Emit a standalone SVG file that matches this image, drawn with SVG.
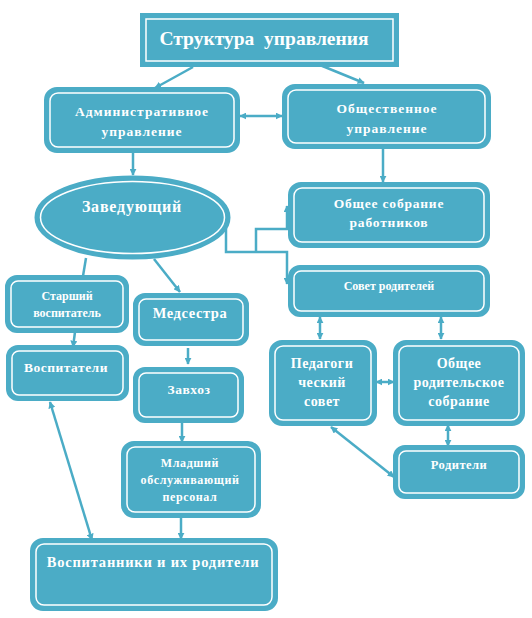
<svg xmlns="http://www.w3.org/2000/svg" width="532" height="618" viewBox="0 0 532 618">
<defs>
<marker id="ah" viewBox="0 0 10 10" refX="9" refY="5" markerWidth="7" markerHeight="7" markerUnits="userSpaceOnUse" orient="auto-start-reverse">
<path d="M0,0 L10,5 L0,10 z" fill="#4BACC6"/>
</marker>
<style>
.box{fill:#4BACC6;stroke:#4BACC6;stroke-width:4}
.in{fill:none;stroke:#ffffff;stroke-width:1.5}
.t{font-family:"Liberation Serif","Times New Roman",serif;font-weight:bold;fill:#ffffff;text-anchor:middle}
.c{fill:none;stroke:#4BACC6;stroke-width:2.5}
.a{marker-end:url(#ah)}
.b{marker-start:url(#ah);marker-end:url(#ah)}
</style>
</defs>
<rect width="532" height="618" fill="#ffffff"/>
<g id="connectors">
<path class="c a" d="M193,67 L155,88"/>
<path class="c a" d="M315,63 L364,83"/>
<path class="c b" d="M240,116 L282,116"/>
<path class="c a" d="M133,153 L133,175"/>
<path class="c a" d="M383,149 L383,182"/>
<path class="c a" d="M226,228 V252 H287 V284"/>
<path class="c a" d="M256,252 V229 H287 V206"/>
<path class="c" d="M86,258 L83,276"/>
<path class="c a" d="M154,259 L180,292"/>
<path class="c a" d="M75,332 L73,347"/>
<path class="c a" d="M188,348 L188,364"/>
<path class="c a" d="M182,422 L182,442"/>
<path class="c a" d="M181,517 L181,539"/>
<path class="c b" d="M50,402 L92,540"/>
<path class="c b" d="M320,317 L320,339"/>
<path class="c b" d="M441,317 L441,339"/>
<path class="c b" d="M376,382 L394,382"/>
<path class="c b" d="M448,425 L448,446"/>
<path class="c b" d="M394,477 L331,427"/>
</g>
<g id="title">
<rect class="box" x="142" y="15" width="255" height="50"/>
<rect class="in" x="146" y="19" width="247" height="42"/>
<text class="t" x="264" y="45" font-size="19.5" xml:space="preserve" style="white-space:pre">Структура  управления</text>
</g>
<g id="admin">
<rect class="box" x="46" y="89" width="192" height="62" rx="11"/>
<rect class="in" x="50" y="93" width="184" height="54" rx="8"/>
<text class="t" x="142" y="116" font-size="13.5" letter-spacing="1">Административное</text>
<text class="t" x="142" y="136" font-size="13.5" letter-spacing="1">управление</text>
</g>
<g id="public">
<rect class="box" x="284" y="86" width="205" height="61" rx="11"/>
<rect class="in" x="288" y="90" width="197" height="53" rx="8"/>
<text class="t" x="387" y="113" font-size="13.5" letter-spacing="1">Общественное</text>
<text class="t" x="387" y="133" font-size="13.5" letter-spacing="1">управление</text>
</g>
<g id="head">
<ellipse class="box" cx="132.5" cy="217.5" rx="96" ry="40"/>
<ellipse class="in" cx="132.5" cy="217.5" rx="92" ry="36"/>
<text class="t" x="132" y="212" font-size="16" letter-spacing="0.8">Заведующий</text>
</g>
<g id="general-meeting">
<rect class="box" x="290" y="184" width="198" height="62" rx="11"/>
<rect class="in" x="294" y="188" width="190" height="54" rx="8"/>
<text class="t" x="389" y="208" font-size="13.5" letter-spacing="0.8">Общее собрание</text>
<text class="t" x="389" y="227" font-size="13.5" letter-spacing="0.8">работников</text>
</g>
<g id="parents-council">
<rect class="box" x="290" y="267" width="198" height="48" rx="10"/>
<rect class="in" x="294" y="271" width="190" height="40" rx="7"/>
<text class="t" x="389" y="290" font-size="12">Совет родителей</text>
</g>
<g id="senior-teacher">
<rect class="box" x="7" y="277" width="120" height="54" rx="10"/>
<rect class="in" x="11" y="281" width="112" height="46" rx="7"/>
<text class="t" x="67" y="300" font-size="12">Старший</text>
<text class="t" x="67" y="317" font-size="12">воспитатель</text>
</g>
<g id="nurse">
<rect class="box" x="135" y="295" width="112" height="49" rx="10"/>
<rect class="in" x="139" y="299" width="104" height="41" rx="7"/>
<text class="t" x="190" y="318" font-size="14.5" letter-spacing="0.6">Медсестра</text>
</g>
<g id="teachers">
<rect class="box" x="8" y="347" width="119" height="52" rx="10"/>
<rect class="in" x="12" y="351" width="111" height="44" rx="7"/>
<text class="t" x="66" y="372" font-size="13.5" letter-spacing="0.5">Воспитатели</text>
</g>
<g id="supply">
<rect class="box" x="135" y="369" width="107" height="52" rx="10"/>
<rect class="in" x="139" y="373" width="99" height="44" rx="7"/>
<text class="t" x="189" y="394" font-size="13.5" letter-spacing="0.6">Завхоз</text>
</g>
<g id="ped-council">
<rect class="box" x="271" y="342" width="104" height="82" rx="11"/>
<rect class="in" x="275" y="346" width="96" height="74" rx="8"/>
<text class="t" x="322" y="368" font-size="14" letter-spacing="0.5">Педагоги</text>
<text class="t" x="322" y="387" font-size="14" letter-spacing="0.5">ческий</text>
<text class="t" x="322" y="406" font-size="14" letter-spacing="0.5">совет</text>
</g>
<g id="parent-meeting">
<rect class="box" x="395" y="342" width="128" height="82" rx="11"/>
<rect class="in" x="399" y="346" width="120" height="74" rx="8"/>
<text class="t" x="459" y="368" font-size="14" letter-spacing="0.5">Общее</text>
<text class="t" x="459" y="387" font-size="14" letter-spacing="0.5">родительское</text>
<text class="t" x="459" y="406" font-size="14" letter-spacing="0.5">собрание</text>
</g>
<g id="parents">
<rect class="box" x="395" y="447" width="128" height="50" rx="10"/>
<rect class="in" x="399" y="451" width="120" height="42" rx="7"/>
<text class="t" x="459" y="469" font-size="12.5" letter-spacing="0.5">Родители</text>
</g>
<g id="junior-staff">
<rect class="box" x="123" y="443" width="136" height="73" rx="11"/>
<rect class="in" x="127" y="447" width="128" height="65" rx="8"/>
<text class="t" x="190" y="467" font-size="12" letter-spacing="0.6">Младший</text>
<text class="t" x="190" y="484" font-size="12" letter-spacing="0.6">обслуживающий</text>
<text class="t" x="190" y="501" font-size="12" letter-spacing="0.6">персонал</text>
</g>
<g id="pupils">
<rect class="box" x="32" y="540" width="244" height="69" rx="11"/>
<rect class="in" x="36" y="544" width="236" height="61" rx="8"/>
<text class="t" x="153" y="567" font-size="14.5" letter-spacing="0.8">Воспитанники и их родители</text>
</g>
</svg>
